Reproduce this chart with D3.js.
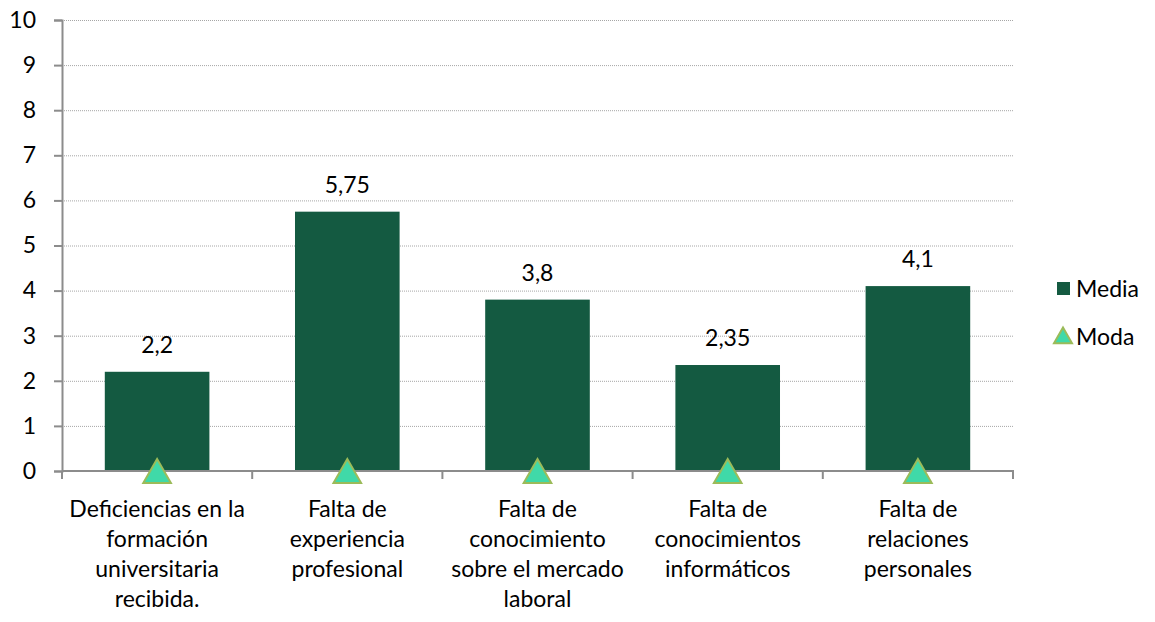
<!DOCTYPE html>
<html>
<head>
<meta charset="utf-8">
<script src="https://cdn.jsdelivr.net/npm/d3@7"></script>
<style>
body { margin: 0; background: #fff; }
text { font-family: Lato, "Open Sans", sans-serif; fill: #000; }
</style>
</head>
<body>
<script>
// chart data
var categories = [
  ["Deficiencias en la", "formación", "universitaria", "recibida."],
  ["Falta de", "experiencia", "profesional"],
  ["Falta de", "conocimiento", "sobre el mercado", "laboral"],
  ["Falta de", "conocimientos", "informáticos"],
  ["Falta de", "relaciones", "personales"]
];
var media = [2.2, 5.75, 3.8, 2.35, 4.1];
var moda = [0, 0, 0, 0, 0];
var mediaLabels = ["2,2", "5,75", "3,8", "2,35", "4,1"];
var yTicks = [0, 1, 2, 3, 4, 5, 6, 7, 8, 9, 10];

var svg = d3.select("body").append("svg").attr("width", 1155).attr("height", 622);

var mLeft = 62, mRight = 1013, mTop = 20, mBottom = 471;
var fs = "23px";

var x = d3.scaleBand().domain(d3.range(categories.length)).range([mLeft, mRight]).paddingInner(0.45).paddingOuter(0.225);
var y = d3.scaleLinear().domain([0, 10]).range([mBottom, mTop]);

// gridlines
svg.append("g").selectAll("line").data(yTicks.slice(1)).enter().append("line")
  .attr("x1", mLeft).attr("x2", mRight)
  .attr("y1", function(d){ return y(d) + 0.5; }).attr("y2", function(d){ return y(d) + 0.5; })
  .style("stroke", "#a6a6a6").style("stroke-dasharray", "1,1").style("stroke-width", 1);

// y axis
var yAxis = svg.append("g").attr("transform", "translate(" + mLeft + ",0)")
  .call(d3.axisLeft(y).tickValues(yTicks).tickSize(8).tickPadding(18));
yAxis.select(".domain").style("stroke", "#8c8c8c").style("stroke-width", 2);
yAxis.selectAll(".tick line").style("stroke", "#8c8c8c").style("stroke-width", 2);
yAxis.selectAll("text").style("font-size", fs).style("font-family", "Lato, sans-serif").attr("fill", "#000");

// bars
svg.append("g").selectAll("rect").data(media).enter().append("rect")
  .attr("x", function(d, i){ return x(i); })
  .attr("width", x.bandwidth())
  .attr("y", function(d){ return y(d); })
  .attr("height", function(d){ return mBottom - y(d); })
  .style("fill", "#145a41");

// x axis line + ticks at band boundaries
var xb = d3.scaleLinear().domain([0, categories.length]).range([mLeft, mRight]);
svg.append("line").attr("x1", mLeft).attr("x2", mRight + 1).attr("y1", mBottom).attr("y2", mBottom)
  .style("stroke", "#8c8c8c").style("stroke-width", 2);
svg.append("g").selectAll("line").data(d3.range(categories.length + 1)).enter().append("line")
  .attr("x1", function(d){ return xb(d); }).attr("x2", function(d){ return xb(d); })
  .attr("y1", mBottom).attr("y2", mBottom + 8)
  .style("stroke", "#8c8c8c").style("stroke-width", 2);

// data labels
svg.append("g").selectAll("text").data(media).enter().append("text")
  .attr("x", function(d, i){ return x(i) + x.bandwidth() / 2; })
  .attr("y", function(d){ return y(d) - 19; })
  .attr("text-anchor", "middle").style("font-size", fs)
  .text(function(d, i){ return mediaLabels[i]; });

// moda markers
var tri = d3.symbol().type(d3.symbolTriangle).size(330);
svg.append("g").selectAll("path").data(moda).enter().append("path")
  .attr("d", tri)
  .attr("transform", function(d, i){ return "translate(" + (x(i) + x.bandwidth() / 2) + "," + (y(d) + 4) + ")"; })
  .style("fill", "#40d9a8").style("stroke", "#9bbb59").style("stroke-width", 2);

// category labels
var cat = svg.append("g").selectAll("text").data(categories).enter().append("text")
  .attr("text-anchor", "middle").style("font-size", fs)
  .attr("x", function(d, i){ return x(i) + x.bandwidth() / 2; });
cat.selectAll("tspan").data(function(d){ return d; }).enter().append("tspan")
  .attr("x", function(){ return d3.select(this.parentNode).attr("x"); })
  .attr("y", function(d, j){ return 517 + j * 30; })
  .text(function(d){ return d; });

// legend
svg.append("rect").attr("x", 1057).attr("y", 282).attr("width", 13).attr("height", 13).style("fill", "#145a41");
svg.append("text").attr("x", 1076).attr("y", 297).style("font-size", fs).text("Media");
svg.append("path").attr("d", d3.symbol().type(d3.symbolTriangle).size(140))
  .attr("transform", "translate(1063,338)")
  .style("fill", "#40d9a8").style("stroke", "#9bbb59").style("stroke-width", 2);
svg.append("text").attr("x", 1076).attr("y", 345).style("font-size", fs).text("Moda");
</script>
</body>
</html>
